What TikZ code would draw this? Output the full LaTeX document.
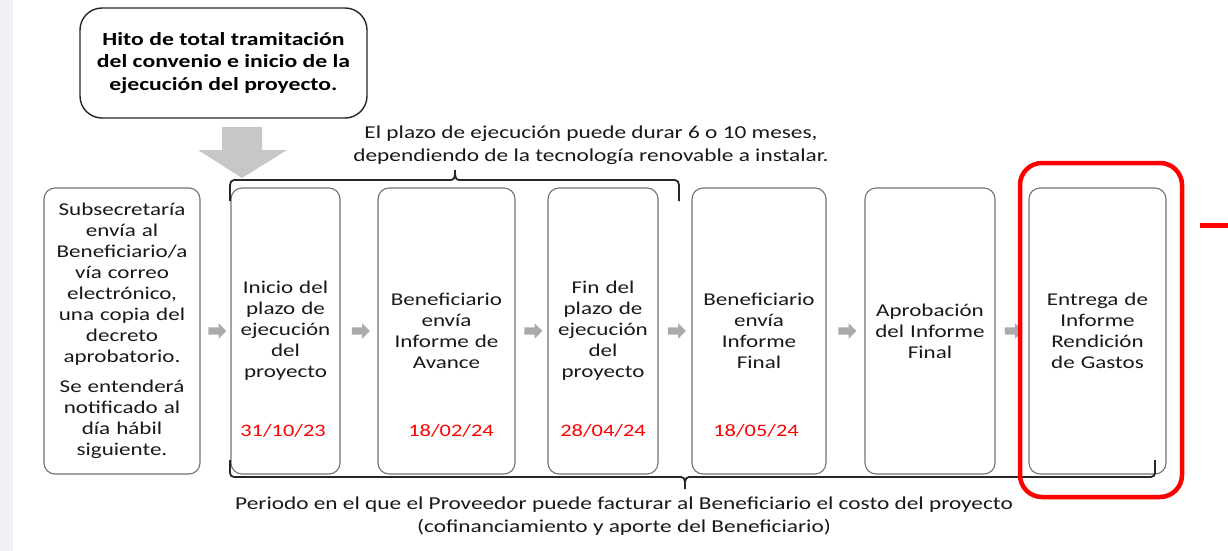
\documentclass[tikz,border=0pt]{standalone}
\usepackage{fontspec}
\setmainfont{Carlito}[FakeStretch=1.28]
\usetikzlibrary{shapes.arrows}

\tikzset{
  caja/.style={draw=black!55, line width=1.1pt, rounded corners=11pt,
               minimum height=286pt, text width=#1, minimum width=#1,
               inner xsep=0pt, align=center, text=black!90,
               font=\fontsize{18}{21}\selectfont},
  hito/.style={draw=black!85, line width=1.4pt, rounded corners=22pt,
               minimum width=287pt, minimum height=110pt, align=center,
               font=\bfseries\fontsize{18.5}{22.5}\selectfont},
  fecha/.style={text=red, font=\fontsize{17.5}{22}\selectfont},
  nota/.style={align=center, text=black!90, font=\fontsize{18.2}{23}\selectfont},
  flechita/.style={single arrow, fill=black!33, draw=none, inner sep=3.5pt,
               minimum height=18pt, single arrow head extend=4pt},
  llave/.style={line width=1.8pt, black!85},
}

\begin{document}
\begin{tikzpicture}[x=1pt,y=-1pt]
    \useasboundingbox[fill=white] (0,0) rectangle (1228,551);
    \fill[blue!20!gray!10] (0,0) rectangle (13,551);          %borde
    \node[hito] (hito) at (223.5,63)
        {Hito de total tramitación\\del convenio e inicio de la\\ejecución del proyecto.};
    \fill[black!22] (222,127) -- (262,127) -- (262,150) -- (287,150)
        -- (242,178) -- (198,150) -- (222,150) -- cycle;      %flecha grande

    \node[caja=156pt] (b1) at (122,331)
        {Subsecretaría\\envía al\\Beneficiario/a\\vía correo\\electrónico,\\una copia del\\decreto\\aprobatorio.\\[9pt]Se entenderá\\notificado al\\día hábil\\siguiente.};
    \node[caja=109pt] (b2) at (285.5,331) {Inicio del\\plazo de\\ejecución\\del\\proyecto};
    \node[caja=137pt] (b3) at (446.5,331) {Beneficiario\\envía\\Informe de\\Avance};
    \node[caja=110pt] (b4) at (603,331)   {Fin del\\plazo de\\ejecución\\del\\proyecto};
    \node[caja=134pt] (b5) at (759,331)   {Beneficiario\\envía\\Informe\\Final};
    \node[caja=130pt] (b6) at (930,331)   {Aprobación\\del Informe\\Final};
    \node[caja=137pt] (b7) at (1097.5,331) {Entrega de\\Informe\\Rendición\\de Gastos};

    \foreach \a/\b in {b1/b2, b2/b3, b3/b4, b4/b5, b5/b6, b6/b7}
        \path (\a.east) -- node[flechita] (f\a) {} (\b.west);

    \node[fecha] (d2) at (283,431) {31/10/23};
    \node[fecha] (d3) at (451,431) {18/02/24};
    \node[fecha] (d4) at (603,431) {28/04/24};
    \node[fecha] (d5) at (756,431) {18/05/24};

    \node[nota] (plazo) at (591,145)
        {El plazo de ejecución puede durar 6 o 10 meses,\\dependiendo de la tecnología renovable a instalar.};
    \draw[llave] (230,201) -- (230,185) to[out=90,in=180] (234,180) -- (451,180)
        to[out=0,in=-90] (455,170) to[out=-90,in=180] (459,180) -- (675,180)
        to[out=0,in=90] (679,185) -- (679,201);

    \node[nota] (periodo) at (624,516)
        {Periodo en el que el Proveedor puede facturar al Beneficiario el costo del proyecto\\(cofinanciamiento y aporte del Beneficiario)};
    \draw[llave] (230,460) -- (230,473) to[out=-90,in=180] (234,477) -- (681,477)
        to[out=0,in=90] (685,489) to[out=90,in=180] (689,477) -- (1151,477)
        to[out=0,in=-90] (1155,473) -- (1155,460);

    \draw[red, line width=4.5pt, rounded corners=22pt] (1020,163) rectangle (1182,497);
    \draw[red, line width=5pt] (1200,225) -- (1228,225);
\end{tikzpicture}
\end{document}
